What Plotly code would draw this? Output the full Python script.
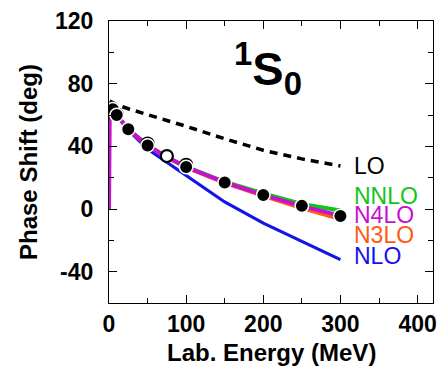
import plotly.graph_objects as go

# ---- data ----
E_filled = [5, 10, 25, 50, 100, 150, 200, 250, 300]
ps_filled = [63.6, 60.0, 50.9, 40.5, 26.8, 16.9, 9.0, 2.0, -4.5]

E_open = [1, 10, 50, 75, 100]
ps_open = [62.1, 60.5, 41.8, 33.8, 28.2]

E_curve = [1, 5, 10, 25, 50, 75, 100, 150, 200, 250, 300]
LO = [69.0, 67.8, 66.5, 64.0, 60.0, 56.5, 52.8, 44.8, 37.5, 32.0, 27.5]
NLO = [62.0, 63.5, 59.8, 50.3, 38.3, 29.8, 21.0, 4.5, -9.0, -20.5, -32.3]
NNLO = [62.1, 63.6, 60.0, 50.9, 40.6, 33.2, 27.0, 17.4, 10.0, 3.2, -1.0]
N3LO = [62.1, 63.6, 60.0, 50.9, 40.5, 33.0, 26.6, 16.6, 8.4, 0.6, -6.5]

E_n4lo = [0, 0.1, 1, 5, 10, 25, 50, 75, 100, 150, 200, 250, 300]
N4LO = [0, 57, 62.1, 63.6, 60.0, 50.9, 40.5, 33.2, 26.8, 17.0, 9.0, 1.8, -4.2]

y_tickvals = [-40, 0, 40, 80, 120]
y_ticktext = ["-40", "0", "40", "80", "120"]

labels = ["LO", "NNLO", "N4LO", "N3LO", "NLO"]
label_y = [27.6, 8.1, -4.0, -16.5, -30.3]

C_LO = "black"
C_NLO = "#1414e6"
C_NNLO = "#12c41a"
C_N3LO = "#ff5a14"
C_N4LO = "#c80fd2"
label_colors = [C_LO, C_NNLO, C_N4LO, C_N3LO, C_NLO]

FONT = "Liberation Sans, Arial, Helvetica, sans-serif"

fig = go.Figure()
fig.add_trace(go.Scatter(x=E_curve, y=NLO, mode="lines", line=dict(color=C_NLO, width=3.2)))
fig.add_trace(go.Scatter(x=E_curve, y=N3LO, mode="lines", line=dict(color=C_N3LO, width=4)))
fig.add_trace(go.Scatter(x=E_curve, y=NNLO, mode="lines", line=dict(color=C_NNLO, width=4)))
fig.add_trace(go.Scatter(x=E_n4lo, y=N4LO, mode="lines", line=dict(color=C_N4LO, width=4)))
fig.add_trace(go.Scatter(x=E_curve, y=LO, mode="lines",
                         line=dict(color=C_LO, width=3.5, dash="8px,6px")))
fig.add_trace(go.Scatter(x=E_open, y=ps_open, mode="markers",
                         marker=dict(size=12, color="white", line=dict(color="black", width=2.2))))
fig.add_trace(go.Scatter(x=E_filled, y=ps_filled, mode="markers",
                         marker=dict(size=13.5, color="black", line=dict(color="white", width=1.5))))

for t, yv, c in zip(labels, label_y, label_colors):
    fig.add_annotation(x=315, y=yv, xref="x", yref="y", text=t, showarrow=False,
                       xanchor="left", yanchor="middle",
                       font=dict(family=FONT, size=23, color=c))

fig.add_annotation(x=206, y=90, xref="x", yref="y",
                   text="<b><sup>1</sup>S<sub>0</sub></b>", showarrow=False,
                   xanchor="center", yanchor="middle",
                   font=dict(family=FONT, size=47, color="black"))

# axis titles
fig.add_annotation(x=0.5, y=0, xref="paper", yref="paper", text="<b>Lab. Energy (MeV)</b>",
                   showarrow=False, xanchor="center", yanchor="top", yshift=-34,
                   font=dict(family=FONT, size=24, color="black"))
fig.add_annotation(x=0, y=0.5, xref="paper", yref="paper", text="<b>Phase Shift (deg)</b>",
                   showarrow=False, xanchor="center", yanchor="middle", xshift=-81,
                   textangle=-90, font=dict(family=FONT, size=24, color="black"))

axis_common = dict(showline=True, linecolor="black", linewidth=1.2, mirror="allticks",
                   ticks="inside", ticklen=8, tickwidth=1.2, tickcolor="black",
                   showgrid=False, zeroline=False,
                   tickfont=dict(family=FONT, size=23, color="black", weight="bold"))

fig.update_xaxes(range=[0, 420], dtick=100, tick0=0, ticklabelstandoff=0,
                 minor=dict(dtick=50, ticks="inside", ticklen=5, tickcolor="black", tickwidth=1.2),
                 **axis_common)
fig.update_yaxes(range=[-60, 120], tickmode="array", tickvals=y_tickvals, ticktext=y_ticktext,
                 ticklabelstandoff=10,
                 minor=dict(dtick=20, tick0=0, ticks="inside", ticklen=5, tickcolor="black", tickwidth=1.2),
                 **axis_common)

fig.update_layout(width=441, height=367, showlegend=False,
                  margin=dict(l=109, r=4, t=21, b=64),
                  plot_bgcolor="white", paper_bgcolor="white")

fig.write_html("out.html")
